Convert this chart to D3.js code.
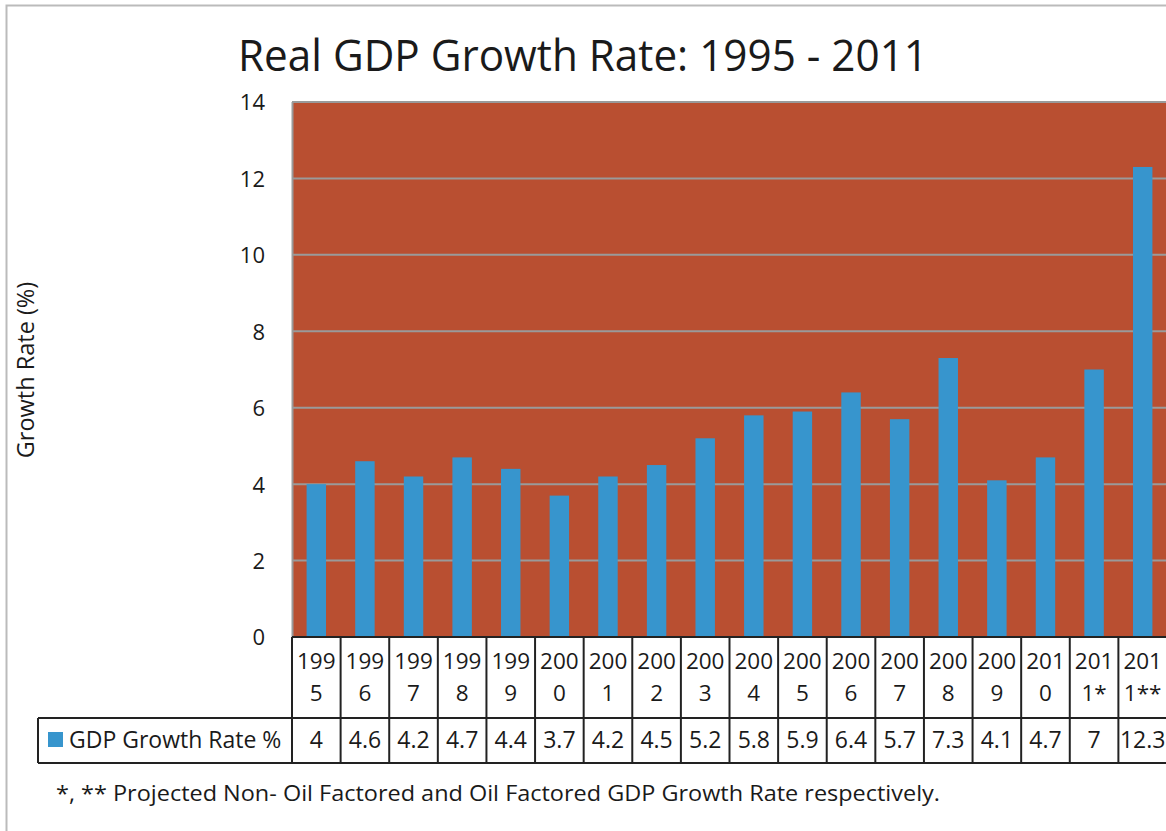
<!DOCTYPE html>
<html><head><meta charset="utf-8">
<script src="https://cdn.jsdelivr.net/npm/d3@7"></script>
<style>body{margin:0;background:#fff}svg{display:block}</style>
</head><body>
<svg id="c" width="1166" height="831"></svg>
<script>
const categories = ["1995","1996","1997","1998","1999","2000","2001","2002","2003","2004","2005","2006","2007","2008","2009","2010","2011*","2011**"];
const headerLines = [["199","5"],["199","6"],["199","7"],["199","8"],["199","9"],["200","0"],["200","1"],["200","2"],["200","3"],["200","4"],["200","5"],["200","6"],["200","7"],["200","8"],["200","9"],["201","0"],["201","1*"],["201","1**"]];
const values = [4,4.6,4.2,4.7,4.4,3.7,4.2,4.5,5.2,5.8,5.9,6.4,5.7,7.3,4.1,4.7,7,12.3];
const yTicks = [0,2,4,6,8,10,12,14];
const seriesName = "GDP Growth Rate %";
const title = "Real GDP Growth Rate: 1995 - 2011";
const yLabel = "Growth Rate (%)";
const footnote = "*, ** Projected Non- Oil Factored and Oil Factored GDP Growth Rate respectively.";

const font = "'Open Sans', 'Noto Sans', sans-serif";
const ink = "#1a1a1a";
const svg = d3.select("#c");
const L = 292, R = 1167, T = 102, B = 637;
const x = d3.scaleBand().domain(categories).range([L, R]).paddingInner(0.6).paddingOuter(0.3);
const xc = d3.scaleBand().domain(categories).range([L, R]);
const y = d3.scaleLinear().domain([0,14]).range([B, T]);

// outer border
svg.append("rect").attr("x",6.5).attr("y",5.5).attr("width",1200).attr("height",900)
  .attr("fill","none").attr("stroke","#bbb").attr("stroke-width",2);

// title
svg.append("text").attr("x",238).attr("y",71).attr("font-family",font).attr("font-size",43)
  .attr("textLength",690).attr("lengthAdjust","spacingAndGlyphs")
  .attr("fill",ink).text(title);

// plot bg
svg.append("rect").attr("x",L).attr("y",T).attr("width",R-L).attr("height",B-T).attr("fill","#B94F31");

// gridlines
svg.append("g").selectAll("line").data(yTicks).join("line")
  .attr("x1",L).attr("x2",R).attr("y1",d=>y(d)).attr("y2",d=>y(d))
  .attr("stroke","#9a9a9a").attr("stroke-width",2);
svg.append("line").attr("x1",L+0.5).attr("x2",L+0.5).attr("y1",T).attr("y2",B).attr("stroke","#9a9a9a").attr("stroke-width",2);

// y axis labels
const yAxis = d3.axisLeft(y).tickValues(yTicks).tickSize(0).tickPadding(27);
const ga = svg.append("g").attr("transform",`translate(${L},0)`).call(yAxis);
ga.select(".domain").remove();
ga.selectAll("text").attr("font-family",font).attr("font-size",22).attr("fill",ink).attr("dy","0.36em");

svg.append("text").attr("transform","translate(34,370) rotate(-90)").attr("text-anchor","middle")
  .attr("font-family",font).attr("font-size",23.5).attr("fill",ink).text(yLabel);

// bars
svg.append("g").selectAll("rect").data(values).join("rect")
  .attr("x",(d,i)=>x(categories[i])).attr("width",x.bandwidth())
  .attr("y",d=>y(d)).attr("height",d=>B-y(d)).attr("fill","#3795CD");

// table
const H1 = 718, H2 = 763, TL = 38;
const tg = svg.append("g").attr("stroke","#222").attr("stroke-width",2).attr("fill","none");
tg.append("line").attr("x1",L).attr("x2",R).attr("y1",B).attr("y2",B);
tg.append("line").attr("x1",TL).attr("x2",R).attr("y1",H1).attr("y2",H1);
tg.append("line").attr("x1",TL).attr("x2",R).attr("y1",H2).attr("y2",H2);
tg.append("line").attr("x1",TL).attr("x2",TL).attr("y1",H1).attr("y2",H2);
tg.selectAll(".v").data(categories.concat(["__end"])).join("line")
  .attr("x1",(d,i)=>L + i*xc.bandwidth()).attr("x2",(d,i)=>L + i*xc.bandwidth())
  .attr("y1",B).attr("y2",H2);

const hg = svg.append("g").attr("font-family",font).attr("font-size",22.5).attr("fill",ink).attr("text-anchor","middle");
categories.forEach((c,i)=>{
  const cx = xc(c) + xc.bandwidth()/2;
  const t = hg.append("text").attr("x",cx).attr("y",669);
  t.append("tspan").attr("x",cx).text(headerLines[i][0]);
  t.append("tspan").attr("x",cx).attr("dy",32).text(headerLines[i][1]);
  hg.append("text").attr("x",cx).attr("y",748).attr("font-size",23).text(values[i]);
});

svg.append("rect").attr("x",48).attr("y",732).attr("width",15).attr("height",15).attr("fill","#3795CD");
svg.append("text").attr("x",69).attr("y",748).attr("font-family",font).attr("font-size",23).attr("fill",ink).text(seriesName);

svg.append("text").attr("x",56).attr("y",801).attr("font-family",font).attr("font-size",22.5)
  .attr("textLength",884).attr("lengthAdjust","spacingAndGlyphs")
  .attr("fill",ink).text(footnote);
</script>
</body></html>
